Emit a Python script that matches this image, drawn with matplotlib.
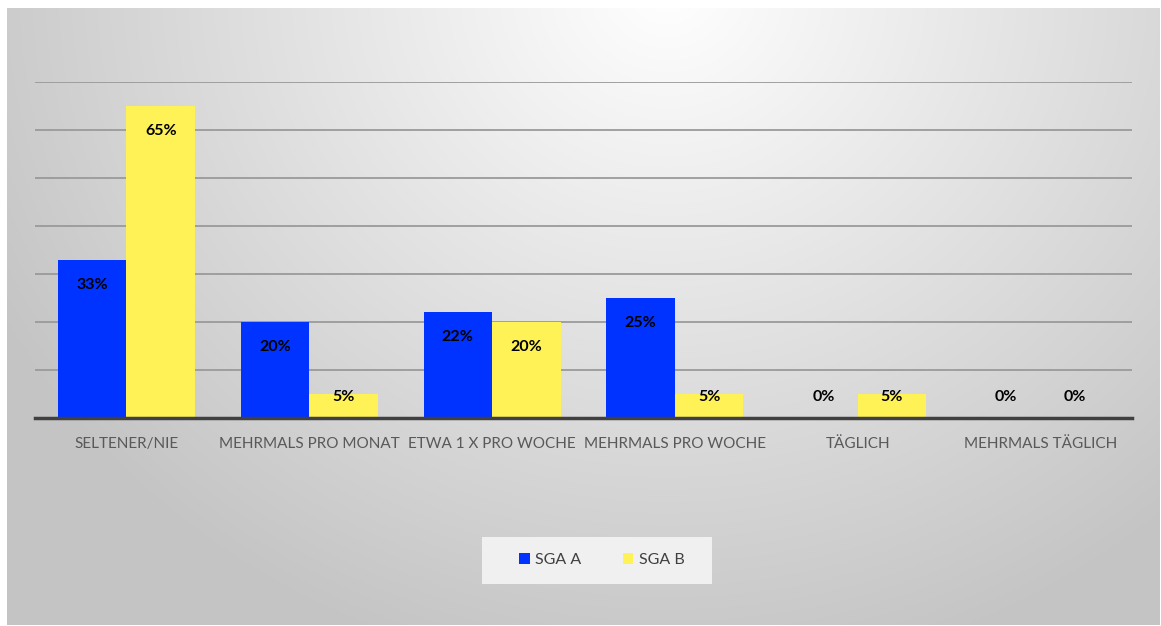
import numpy as np
import matplotlib
matplotlib.use("Agg")
import matplotlib.pyplot as plt
from matplotlib.patches import Rectangle

plt.rcParams['font.family'] = ['Lato', 'DejaVu Sans']

# Daten
categories = ["SELTENER/NIE", "MEHRMALS PRO MONAT", "ETWA 1 X PRO WOCHE",
              "MEHRMALS PRO WOCHE", "TÄGLICH", "MEHRMALS TÄGLICH"]
sga_a = [33, 20, 22, 25, 0, 0]
sga_b = [65, 5, 20, 5, 5, 0]
series_names = ["SGA A", "SGA B"]
colors = ["#0033ff", "#fff257"]

W, H = 1161, 626
fig = plt.figure(figsize=(W / 100, H / 100), dpi=100)
fig.patch.set_facecolor("white")

# Hintergrund mit radialem Verlauf
bg = fig.add_axes([7 / W, 1 / H, 1153 / W, 617 / H])
bg.set_axis_off()
yy, xx = np.mgrid[0:617, 0:1153]
d = np.sqrt(((xx - 660) / 760.0) ** 2 + ((yy + 20) / 700.0) ** 2)
g = 1.0 - 0.23 * np.clip(d, 0, 1)
bg.imshow(np.dstack([g, g, g]), aspect="auto", extent=[0, 1, 0, 1],
          interpolation="bilinear")
bg.set_xlim(0, 1)
bg.set_ylim(0, 1)

ax = fig.add_axes([35 / W, 1 - 418 / H, 1097 / W, 336 / H])
ax.patch.set_alpha(0)

x = np.arange(len(categories))
w = 0.375
for i, (vals, c) in enumerate(zip([sga_a, sga_b], colors)):
    pos = x + (i - 0.5) * w
    ax.bar(pos, vals, width=w, color=c, zorder=3, label=series_names[i])
    for p, v in zip(pos, vals):
        ax.text(p, max(v - 5.2, 4.4), f"{v}%", ha="center", va="center",
                fontsize=11.5, fontweight="bold", color="black", zorder=4)

ax.set_xlim(-0.5, len(categories) - 0.5)
ax.set_ylim(0, 70)
ax.set_yticks(np.arange(10, 71, 10))
ax.yaxis.grid(True, color="#9a9a9a", linewidth=1.3, zorder=1)
ax.tick_params(axis="y", left=False, labelleft=False)
ax.tick_params(axis="x", length=0, pad=14)
ax.set_xticks(x)
ax.set_xticklabels(categories, fontsize=11, color="#595959")
for s in ["top", "right", "left"]:
    ax.spines[s].set_visible(False)
ax.spines["bottom"].set_color("#404040")
ax.spines["bottom"].set_linewidth(2.5)
ax.spines["bottom"].set_zorder(5)

# Legende
fig.patches.append(Rectangle((482 / W, 1 - 584 / H), 230 / W, 47 / H,
                             transform=fig.transFigure, facecolor="#f0f0f0",
                             edgecolor="none", zorder=1))
handles, labels = ax.get_legend_handles_labels()
leg = fig.legend(handles, labels, loc="center", bbox_to_anchor=(602 / W, 1 - 560 / H),
                 ncol=2, frameon=False, fontsize=11.5, handlelength=0.65,
                 handleheight=0.65, handletextpad=0.35, columnspacing=2.6)
for t in leg.get_texts():
    t.set_color("#404040")

fig.savefig("out.png", dpi=100)
